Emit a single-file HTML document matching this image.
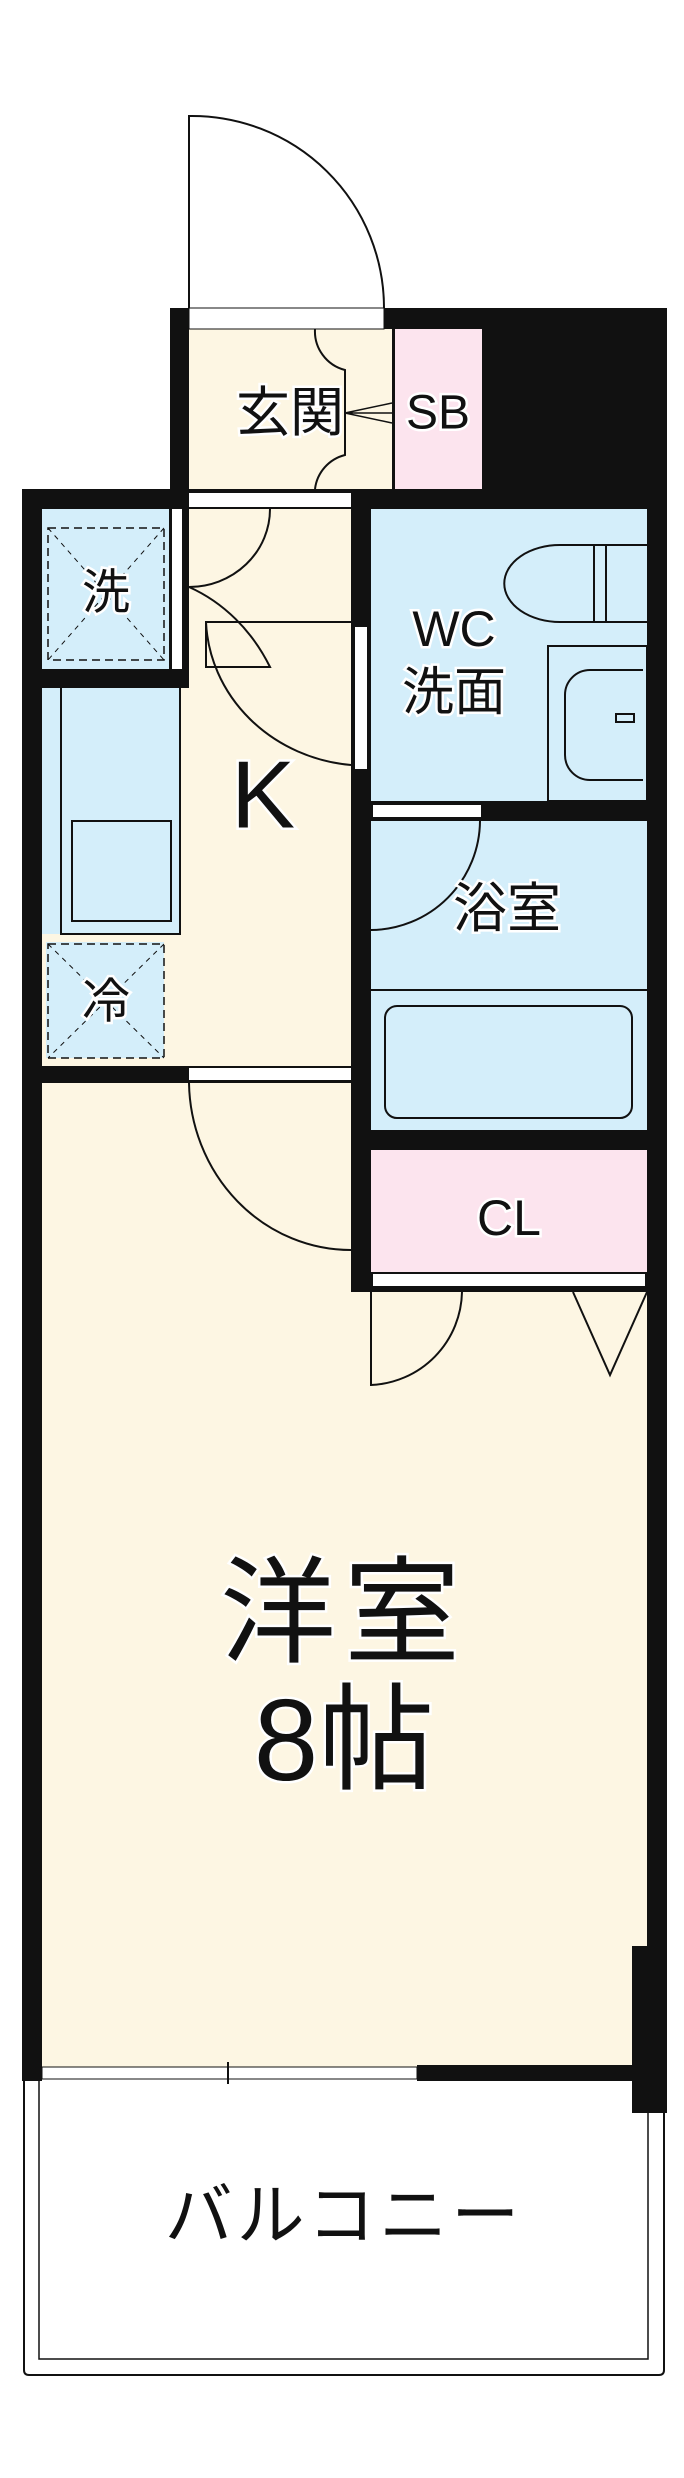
<!DOCTYPE html>
<html><head><meta charset="utf-8"><style>
html,body{margin:0;padding:0;background:#fff;}
svg{display:block}
text{font-family:"Liberation Sans","Noto Sans CJK JP",sans-serif;fill:#111;stroke:#fff;stroke-width:5px;paint-order:stroke;text-anchor:middle;dominant-baseline:central}
</style></head><body>
<svg width="684" height="2478" viewBox="0 0 684 2478" xmlns="http://www.w3.org/2000/svg">
<!-- fills -->
<rect x="42" y="1083" width="309" height="209" fill="#fdf6e3"/>
<rect x="42" y="1292" width="605" height="776" fill="#fdf6e3"/>
<rect x="189" y="329" width="206" height="160" fill="#fdf6e3"/>
<rect x="395" y="329" width="87" height="160" fill="#fce4ee"/>
<rect x="42" y="509" width="129" height="160" fill="#d4eefa"/>
<rect x="189" y="509" width="162" height="557" fill="#fdf6e3"/>
<rect x="42" y="688" width="147" height="378" fill="#fdf6e3"/>
<rect x="42" y="688" width="138" height="246" fill="#d4eefa"/>
<rect x="46" y="942" width="118" height="116" fill="#d4eefa"/>
<rect x="371" y="509" width="276" height="292" fill="#d4eefa"/>
<rect x="371" y="821" width="276" height="309" fill="#d4eefa"/>
<rect x="371" y="1150" width="276" height="122" fill="#fce4ee"/>
<!-- entrance door -->
<g fill="none" stroke="#111" stroke-width="2">
<path d="M189 308 V116 A192 192 0 0 1 384 308"/>
<path d="M315 329 A40 40 0 0 0 345 370 V413 M345 413 V455 A40 40 0 0 0 315 489"/>
<path d="M345 413 L392 403 M345 413 L392 423 M345 413 H395" stroke-width="1.5"/>
<path d="M189 587 A81 78 0 0 0 270 509"/>
<path d="M189 587 A160 180 0 0 1 270 667 H206 V622 H351"/>
<path d="M206 622 A160 150 0 0 0 351 765"/>
<rect x="48" y="528" width="116" height="132" stroke-dasharray="8 5" stroke-width="1.5"/>
<path d="M48 528 L164 660 M164 528 L48 660" stroke-dasharray="5 5" stroke-width="1"/>
<rect x="48" y="944" width="116" height="114" stroke-dasharray="8 5" stroke-width="1.5"/>
<path d="M48 944 L164 1058 M164 944 L48 1058" stroke-dasharray="5 5" stroke-width="1"/>
<path d="M61 688 V934 H180 V688" stroke-width="2"/>
<rect x="72" y="821" width="99" height="100"/>
<path d="M647 545 H560 A55 38 0 0 0 560 622 H647"/>
<rect x="594" y="545" width="12" height="77"/>
<rect x="548" y="646" width="99" height="155"/>
<path d="M643 670 H590 A25 25 0 0 0 565 695 V755 A25 25 0 0 0 590 780 H643"/>
<rect x="616" y="714" width="18" height="8"/>
<path d="M371 990 H647"/>
<rect x="385" y="1006" width="247" height="112" rx="12"/>
<path d="M371 930 A110 110 0 0 0 480 821"/>
<path d="M189 1083 A162 170 0 0 0 351 1250"/>
<path d="M371 1292 V1385 A95 95 0 0 0 462 1292"/>
<path d="M573 1292 L610 1375 L647 1292"/>
<path d="M24 2081 V2370 Q24 2375 29 2375 H659 Q664 2375 664 2370 V2113" stroke-width="2"/>
<path d="M39 2081 V2359 H648 V2113" stroke-width="1.5"/>
</g>
<!-- walls -->
<g fill="#111">
<rect x="170" y="308" width="19" height="181"/>
<rect x="384" y="308" width="283" height="21"/>
<rect x="189" y="308" width="195" height="21" fill="#fff" stroke="#111" stroke-width="1"/>
<rect x="170" y="308" width="19" height="21"/>
<rect x="392" y="329" width="3" height="160"/>
<rect x="482" y="308" width="185" height="181"/>
<rect x="22" y="489" width="645" height="20"/>
<rect x="189" y="493" width="162" height="14" fill="#fff"/>
<rect x="22" y="489" width="20" height="1592"/>
<rect x="647" y="489" width="20" height="1457"/>
<rect x="169" y="509" width="20" height="160"/>
<rect x="172" y="509" width="10" height="160" fill="#fff"/>
<rect x="22" y="669" width="167" height="19"/>
<rect x="351" y="489" width="20" height="803"/>
<rect x="355" y="627" width="12" height="142" fill="#fff"/>
<rect x="371" y="801" width="276" height="20"/>
<rect x="373" y="805" width="108" height="12" fill="#fff"/>
<rect x="371" y="1130" width="276" height="20"/>
<rect x="22" y="1066" width="329" height="17"/>
<rect x="189" y="1068" width="162" height="12" fill="#fff"/>
<rect x="371" y="1272" width="276" height="20"/>
<rect x="373" y="1274" width="272" height="12" fill="#fff"/>
<rect x="417" y="2065" width="215" height="16"/>
<rect x="42" y="2067" width="375" height="12" fill="#fff" stroke="#111" stroke-width="1"/>
<rect x="227" y="2062" width="2" height="22"/>
<rect x="632" y="1946" width="35" height="167"/>
</g>
<!-- labels -->
<text x="290" y="413" font-size="54">玄関</text>
<text x="438" y="413" font-size="48">SB</text>
<text x="106" y="593" font-size="48">洗</text>
<text x="454" y="629" font-size="50">WC</text>
<text x="454" y="693" font-size="52">洗面</text>
<text x="263" y="795" font-size="96">K</text>
<text x="507" y="909" font-size="54">浴室</text>
<text x="106" y="1002" font-size="48">冷</text>
<text x="509" y="1218" font-size="50">CL</text>
<text x="344" y="1613" font-size="116" letter-spacing="8">洋室</text>
<text x="344" y="1740" font-size="116">8帖</text>
<text x="344" y="2216" font-size="68" letter-spacing="4">バルコニー</text>
</svg>
</body></html>
